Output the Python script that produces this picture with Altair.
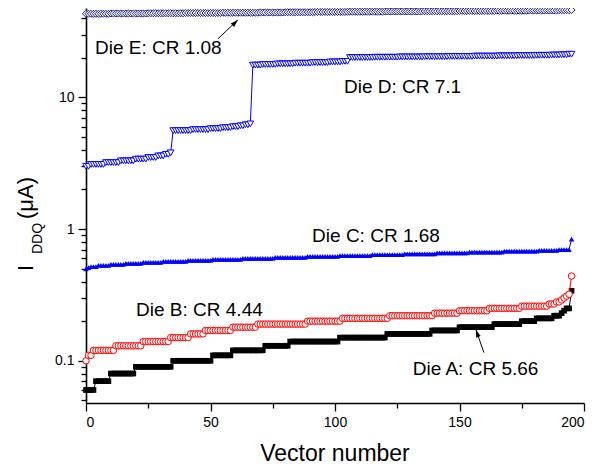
import altair as alt
import numpy as np
import pandas as pd

# ---------------- data ----------------
VECTORS = list(range(196))

# stepwise IDDQ readings (level, number of consecutive vectors at that level)
A_LEVELS = [0.06, 0.07, 0.08, 0.09, 0.10, 0.11, 0.12, 0.13, 0.14, 0.15, 0.16,
            0.17, 0.18, 0.19, 0.20, 0.21, 0.22, 0.23, 0.24, 0.25, 0.34]
A_COUNTS = [4, 6, 10, 15, 16, 8, 13, 10, 20, 19, 18, 11, 14, 11, 6, 7, 3, 1, 1, 2, 1]

B_LEVELS = [0.10, 0.11, 0.12, 0.13, 0.14, 0.15, 0.16, 0.17, 0.18, 0.19, 0.20, 0.21,
            0.22, 0.23, 0.24, 0.25, 0.26, 0.27, 0.28, 0.29, 0.30, 0.31, 0.32, 0.44]
B_COUNTS = [1, 2, 9, 11, 11, 8, 6, 11, 10, 20, 14, 19, 18, 10, 12, 13, 11, 3, 2, 1, 1, 1, 1, 1]

C_LEVELS = [0.50, 0.51, 0.52, 0.53, 0.54, 0.55, 0.56, 0.57, 0.58, 0.59, 0.60,
            0.61, 0.62, 0.63, 0.64, 0.65, 0.66, 0.67, 0.68, 0.69, 0.70, 0.84]
C_COUNTS = [1, 1, 3, 5, 6, 7, 8, 10, 10, 12, 13, 13, 13, 13, 13, 13, 13, 14, 14, 8, 5, 1]

D_LEVELS = [3.0, 3.1, 3.2, 3.3, 3.4, 3.5, 3.6, 3.7, 3.8,
            5.6, 5.7, 5.8, 5.9, 6.0, 6.1, 6.2, 6.3,
            17.6, 17.8, 18.0, 18.2, 18.4, 18.6, 18.8,
            20.1, 20.2, 20.3, 20.4, 20.5, 20.6, 20.7, 20.8, 20.9, 21.0, 21.1, 21.3]
D_COUNTS = [2, 6, 6, 6, 5, 4, 3, 2, 1,
            8, 7, 5, 4, 3, 2, 2, 1,
            4, 6, 7, 7, 7, 5, 3,
            10, 10, 10, 10, 10, 10, 8, 7, 6, 4, 3, 2]

E_LEVELS = [43.2, 43.4, 43.6, 43.8, 44.0, 44.2, 44.4, 44.6, 44.8, 45.0, 45.2,
            45.4, 45.6, 45.8, 46.0, 46.2]
E_COUNTS = [10, 15, 15, 15, 15, 10, 12, 13, 15, 15, 15, 15, 13, 12, 5, 1]

DIES = ["Die A", "Die B", "Die C", "Die D", "Die E"]
LEVELS = [A_LEVELS, B_LEVELS, C_LEVELS, D_LEVELS, E_LEVELS]
COUNTS = [A_COUNTS, B_COUNTS, C_COUNTS, D_COUNTS, E_COUNTS]

# annotations
ANN_TEXT = ["Die E: CR 1.08", "Die D: CR 7.1", "Die C: CR 1.68", "Die B: CR 4.44", "Die A: CR 5.66"]
ANN_X = [3.6, 103.6, 90.8, 20.1, 131.2]
ANN_Y = [21.2, 10.8, 0.805, 0.217, 0.0786]

ARROW_X = [53.0, 159.8]       # tails
ARROW_Y = [27.9, 0.1153]
ARROW_X2 = [61.0, 156.6]      # heads
ARROW_Y2 = [38.8, 0.1723]
ARROW_ANGLE = [46, 341]

X_TICKS = [0, 25, 50, 75, 100, 125, 150, 175, 200]
Y_TICKS = [0.05, 0.06, 0.07, 0.08, 0.09, 0.1, 0.2, 0.3, 0.4, 0.5, 0.6, 0.7, 0.8, 0.9,
           1, 2, 3, 4, 5, 6, 7, 8, 9, 10, 20, 30, 40]

# ---------------- styles ----------------
FONT = "Liberation Sans"
STYLE = {
    "Die A": dict(shape="square", filled=True, color="#000000", size=32),
    "Die B": dict(shape="circle", filled=False, color="#ff0000", size=42),
    "Die C": dict(shape="triangle-up", filled=True, color="#0000ff", size=30),
    "Die D": dict(shape="triangle-down", filled=False, color="#0000ff", size=44),
    "Die E": dict(shape="diamond", filled=False, color="#16168c", size=50),
}

W, H = 498, 395

x_scale = alt.Scale(domain=[0, 200], nice=False, zero=False)
y_scale = alt.Scale(type="log", domain=[0.0478, 47.8], nice=False)

x_axis = alt.Axis(
    values=X_TICKS, title=None,
    labelExpr="datum.value % 50 == 0 ? datum.label : ''",
    tickSize={"condition": {"test": "datum.value % 50 == 0", "value": 8}, "value": 5},
    labelFont=FONT, labelFontSize=14, labelColor="black", labelPadding=4,
    labelOverlap=False, domainColor="black", domainWidth=1.6,
    tickColor="black", tickWidth=1.3, grid=False, format="d",
)
y_axis = alt.Axis(
    values=Y_TICKS, title=None,
    labelExpr="datum.value == 0.1 ? '0.1' : datum.value == 1 ? '1' : datum.value == 10 ? '10' : ''",
    tickSize={"condition": {"test": "datum.value == 0.1 || datum.value == 1 || datum.value == 10",
                            "value": 8}, "value": 5},
    labelFont=FONT, labelFontSize=14, labelColor="black", labelPadding=4,
    labelOverlap=False, domainColor="black", domainWidth=1.6,
    tickColor="black", tickWidth=1.3, grid=False,
)

layers = []
for i, die in enumerate(DIES):
    vals = np.repeat(LEVELS[i], COUNTS[i])
    df = pd.DataFrame({"vec": VECTORS, "val": vals})
    st = STYLE[die]
    base = alt.Chart(df)
    enc = dict(
        x=alt.X("vec:Q", scale=x_scale, axis=x_axis),
        y=alt.Y("val:Q", scale=y_scale, axis=y_axis),
    )
    line = base.mark_line(color=st["color"], strokeWidth=1).encode(**enc)
    pts = base.mark_point(
        shape=st["shape"], filled=st["filled"], color=st["color"],
        size=st["size"], strokeWidth=1, opacity=1,
        fill=st["color"] if st["filled"] else "white",
    ).encode(**enc)
    layers += [line, pts]

ann_df = pd.DataFrame({"t": ANN_TEXT, "x": ANN_X, "y": ANN_Y})
ann = alt.Chart(ann_df).mark_text(
    align="left", baseline="alphabetic", font=FONT, fontSize=19, color="black"
).encode(
    x=alt.X("x:Q", scale=x_scale), y=alt.Y("y:Q", scale=y_scale), text="t:N"
)

arr_df = pd.DataFrame({"x": ARROW_X, "y": ARROW_Y, "x2": ARROW_X2, "y2": ARROW_Y2,
                       "a": ARROW_ANGLE})
arr_line = alt.Chart(arr_df).mark_rule(color="black", strokeWidth=1).encode(
    x=alt.X("x:Q", scale=x_scale), y=alt.Y("y:Q", scale=y_scale),
    x2="x2:Q", y2="y2:Q",
)
arr_head = alt.Chart(arr_df).mark_point(
    shape="M0,0L-0.5,1.6L0.5,1.6Z", filled=True, color="black", size=90, opacity=1
).encode(
    x=alt.X("x2:Q", scale=x_scale), y=alt.Y("y2:Q", scale=y_scale),
    angle=alt.Angle("a:Q", scale=None),
)

# axis titles as text (subscript in the y title)
ytitle_big = alt.Chart(pd.DataFrame({"t": ["I"]})).mark_text(
    angle=270, align="left", baseline="alphabetic", font=FONT, fontSize=22, color="black"
).encode(text="t:N", x=alt.value(-53), y=alt.value(263))
ytitle_sub = alt.Chart(pd.DataFrame({"t": ["DDQ"]})).mark_text(
    angle=270, align="left", baseline="alphabetic", font=FONT, fontSize=14, color="black"
).encode(text="t:N", x=alt.value(-44), y=alt.value(246))
ytitle_unit = alt.Chart(pd.DataFrame({"t": ["(μA)"]})).mark_text(
    angle=270, align="left", baseline="alphabetic", font=FONT, fontSize=22, color="black"
).encode(text="t:N", x=alt.value(-53), y=alt.value(211))
xtitle = alt.Chart(pd.DataFrame({"t": ["Vector number"]})).mark_text(
    align="center", baseline="alphabetic", font=FONT, fontSize=23, color="black"
).encode(text="t:N", x=alt.value(W / 2), y=alt.value(453))

chart = alt.layer(
    *layers, ann, arr_line, arr_head, ytitle_big, ytitle_sub, ytitle_unit, xtitle
).properties(
    width=W, height=H,
    autosize=alt.AutoSizeParams(type="none"),
    padding={"left": 78, "top": 0, "right": 5, "bottom": 65},
    background="white",
).configure_view(stroke=None)

chart.save("out.html", embed_options={"renderer": "svg", "actions": False})
